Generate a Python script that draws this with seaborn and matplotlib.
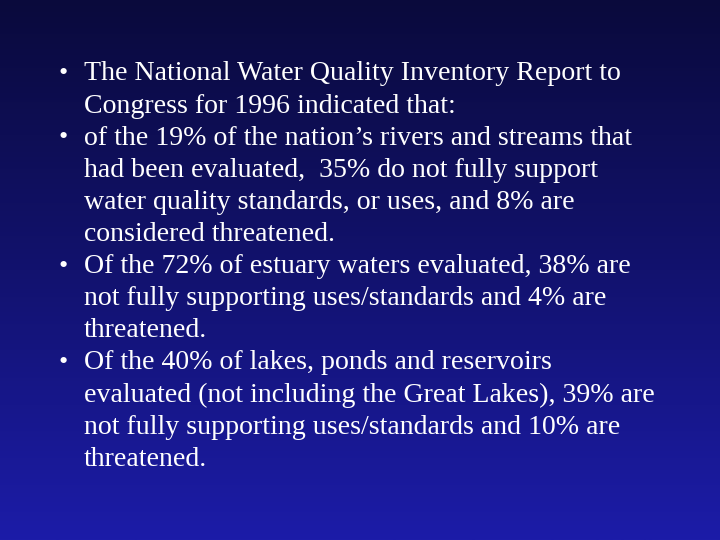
import numpy as np
import matplotlib
matplotlib.use("Agg")
import matplotlib.pyplot as plt
import seaborn as sns
from matplotlib.colors import LinearSegmentedColormap

sns.set_theme(style="white")
plt.rcParams['font.family'] = ['Liberation Serif', 'DejaVu Serif']

bullets = [
    ["The National Water Quality Inventory Report to",
     "Congress for 1996 indicated that:"],
    ["of the 19% of the nation\u2019s rivers and streams that",
     "had been evaluated,  35% do not fully support",
     "water quality standards, or uses, and 8% are",
     "considered threatened."],
    ["Of the 72% of estuary waters evaluated, 38% are",
     "not fully supporting uses/standards and 4% are",
     "threatened."],
    ["Of the 40% of lakes, ponds and reservoirs",
     "evaluated (not including the Great Lakes), 39% are",
     "not fully supporting uses/standards and 10% are",
     "threatened."],
]

fig = plt.figure(figsize=(7.2, 5.4), dpi=100)
ax = fig.add_axes([0, 0, 1, 1])
ax.set_xlim(0, 720)
ax.set_ylim(540, 0)
ax.axis('off')

cmap = LinearSegmentedColormap.from_list("bg", ["#0a0a3c", "#12126e", "#1c1ca8"])
grad = np.linspace(0, 1, 256).reshape(-1, 1)
ax.imshow(grad, cmap=cmap, aspect='auto', extent=[0, 720, 540, 0])

y = 74
step = 32.1
for b in bullets:
    ax.text(58, y, "\u2022", color="white", fontsize=19, va='center', ha='left')
    for line in b:
        ax.text(84, y, line, color="white", fontsize=20.1, va='center', ha='left')
        y += step

fig.savefig("out.png", dpi=100)
